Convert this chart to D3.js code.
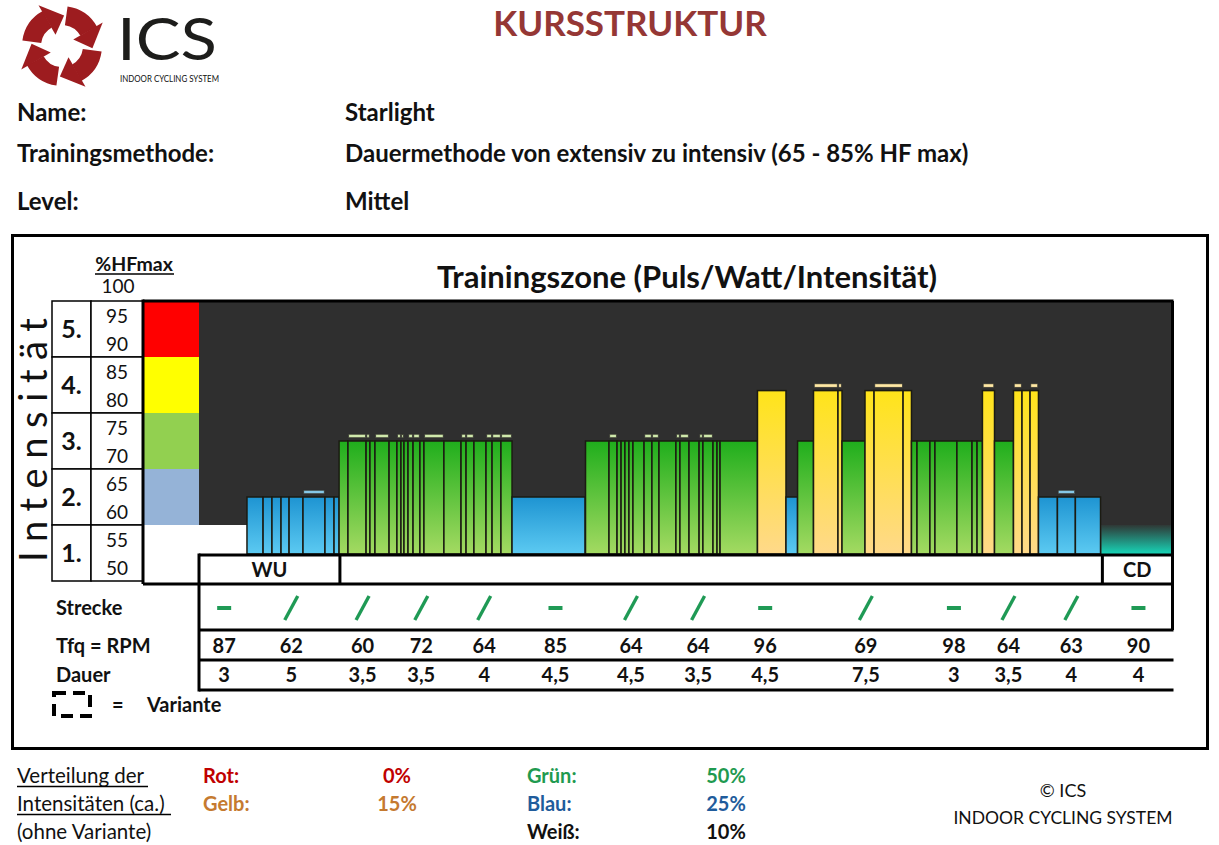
<!DOCTYPE html>
<html><head><meta charset="utf-8">
<script src="https://cdn.jsdelivr.net/npm/d3@7"></script>
<style>
body{margin:0;background:#fff}
svg{display:block}
text{font-family:Lato,"Open Sans","DejaVu Sans",sans-serif;fill:#111}
</style></head>
<body><svg id="c" width="1219" height="845"></svg>
<script>
// ---------- data ----------
const totalMinutes = 58;
const intensityRows = [5, 4, 3, 2, 1];
const hfTicks = [95, 90, 85, 80, 75, 70, 65, 60, 55, 50];
const zoneBands = [ // [from%, to%, zone]
  [90, 100, "rot"], [80, 90, "gelb"], [70, 80, "gruen"], [60, 70, "blau"], [50, 60, "weiss"]
];
const phaseLabels = ["WU", "", "CD"];
const phaseBounds = [0, 8.4, 53.85, 58];
const strecke = ["flach","berg","berg","berg","berg","flach","berg","berg","flach","berg","flach","berg","berg","flach"];
const rpm = [87, 62, 60, 72, 64, 85, 64, 64, 96, 69, 98, 64, 63, 90];
const dauer = [3, 5, 3.5, 3.5, 4, 4.5, 4.5, 3.5, 4.5, 7.5, 3, 3.5, 4, 4];
const dauerLabels = ["3","5","3,5","3,5","4","4,5","4,5","3,5","4,5","7,5","3","3,5","4","4"];
// segments: [start min, end min, %HFmax, zone, variant]
const segments = [
  [0, 2.86, 60, "weiss", 0],
  [2.86, 3.82, 65, "blau", 0], [3.82, 4.35, 65, "blau", 0], [4.35, 4.89, 65, "blau", 0],
  [4.89, 5.37, 65, "blau", 0], [5.37, 6.20, 65, "blau", 0], [6.20, 7.51, 65, "blau", 1],
  [7.51, 8.05, 65, "blau", 0], [8.05, 8.35, 65, "blau", 0],
  [8.35, 8.88, 75, "gruen", 0], [8.88, 9.96, 75, "gruen", 1], [9.96, 10.19, 75, "gruen", 1],
  [10.19, 10.49, 75, "gruen", 0], [10.49, 11.33, 75, "gruen", 1], [11.33, 11.80, 75, "gruen", 0],
  [11.80, 12.04, 75, "gruen", 1], [12.04, 12.22, 75, "gruen", 1], [12.22, 12.46, 75, "gruen", 0],
  [12.46, 12.76, 75, "gruen", 1], [12.76, 13.17, 75, "gruen", 1], [13.17, 13.41, 75, "gruen", 0],
  [13.41, 14.60, 75, "gruen", 1], [14.60, 15.62, 75, "gruen", 0], [15.62, 15.92, 75, "gruen", 1],
  [15.92, 16.39, 75, "gruen", 1], [16.39, 17.11, 75, "gruen", 0], [17.11, 17.47, 75, "gruen", 1],
  [17.47, 18.00, 75, "gruen", 1], [18.00, 18.66, 75, "gruen", 1],
  [18.66, 23.01, 65, "blau", 0],
  [23.04, 24.44, 75, "gruen", 0], [24.44, 24.92, 75, "gruen", 1], [24.92, 25.16, 75, "gruen", 0],
  [25.16, 25.39, 75, "gruen", 0], [25.39, 25.63, 75, "gruen", 0], [25.63, 25.87, 75, "gruen", 0],
  [25.87, 26.53, 75, "gruen", 0], [26.53, 27.00, 75, "gruen", 1], [27.00, 27.42, 75, "gruen", 1],
  [27.42, 28.43, 75, "gruen", 0], [28.43, 28.67, 75, "gruen", 1], [28.67, 29.21, 75, "gruen", 1],
  [29.21, 29.81, 75, "gruen", 0], [29.81, 30.04, 75, "gruen", 1], [30.04, 30.64, 75, "gruen", 1],
  [30.64, 30.88, 75, "gruen", 0], [30.88, 31.06, 75, "gruen", 0], [31.06, 33.29, 75, "gruen", 0],
  [33.29, 34.99, 84, "gelb", 0],
  [34.99, 35.68, 65, "blau", 0],
  [35.68, 36.63, 75, "gruen", 0],
  [36.63, 38.09, 84, "gelb", 1], [38.09, 38.33, 84, "gelb", 1],
  [38.33, 39.70, 75, "gruen", 0],
  [39.70, 40.24, 84, "gelb", 0], [40.24, 41.97, 84, "gelb", 1], [41.97, 42.47, 84, "gelb", 0],
  [42.47, 42.80, 75, "gruen", 0], [42.80, 43.57, 75, "gruen", 0], [43.57, 43.87, 75, "gruen", 0],
  [43.87, 45.18, 75, "gruen", 0], [45.18, 46.08, 75, "gruen", 0], [46.08, 46.38, 75, "gruen", 0],
  [46.38, 46.70, 75, "gruen", 0],
  [46.70, 47.42, 84, "gelb", 1],
  [47.42, 48.55, 75, "gruen", 0],
  [48.55, 49.06, 84, "gelb", 1], [49.06, 49.54, 84, "gelb", 0], [49.54, 50.04, 84, "gelb", 1],
  [50.04, 51.17, 65, "blau", 0], [51.17, 52.24, 65, "blau", 1], [52.24, 53.74, 65, "blau", 0],
  [53.80, 58, 60, "cd", 0]
];
const verteilung = [
  ["Rot:", "0%", "rot"], ["Gelb:", "15%", "gelb"],
  ["Grün:", "50%", "gruen"], ["Blau:", "25%", "blau"], ["Weiß:", "10%", "weiss"]
];

// ---------- setup ----------
const svg = d3.select("#c");
const defs = svg.append("defs");
const x = d3.scaleLinear().domain([0, totalMinutes]).range([199, 1172]);
const y = d3.scaleLinear().domain([50, 100]).range([581, 301]);
const yBase = 554;
const legendFill = {rot:"#ff0000", gelb:"#ffff00", gruen:"#92d050", blau:"#95b3d7", weiss:"#ffffff"};
const grad = {
  gruen:["#1fae1c","#a4da62"], gelb:["#ffe41a","#ffd98a"], blau:["#1e94d2","#5ccaf2"], cd:["#2f3836","#17d6b8"]
};
const capFill = {gruen:"#cfe8ac", gelb:"#ffe8a4", blau:"#86c7e6"};
const textCol = {rot:"#c00000", gelb:"#c57a30", gruen:"#1f9a50", blau:"#1f5c9c", weiss:"#111"};
Object.entries(grad).forEach(([k,c])=>{
  const g = defs.append("linearGradient").attr("id","g_"+k).attr("x1",0).attr("y1",0).attr("x2",0).attr("y2",1);
  g.append("stop").attr("offset","0%").attr("stop-color",c[0]);
  g.append("stop").attr("offset","100%").attr("stop-color",c[1]);
});

// ---------- header ----------
const logo = svg.append("g").attr("transform","translate(62,46)");
const pt = (a,r)=>[r*Math.sin(a), -r*Math.cos(a)];
for (let k=0;k<4;k++){
  const a0 = (k*90+8)*Math.PI/180, a1 = a0 + 52*Math.PI/180, a2 = a0 + 86*Math.PI/180;
  logo.append("path").attr("d", d3.arc()({innerRadius:21,outerRadius:40,startAngle:a0,endAngle:a1+0.02}))
    .attr("fill","#9d1c1f");
  logo.append("path").attr("d", d3.line()([pt(a1,13),pt(a1,47),pt(a2,30.5)]) + "Z").attr("fill","#9d1c1f");
}
svg.append("text").attr("x",117).attr("y",60).attr("font-size",58).attr("font-weight",400)
  .attr("textLength",100).attr("lengthAdjust","spacingAndGlyphs")
  .style("fill","#1d1d1b").text("ICS");
svg.append("text").attr("x",120).attr("y",82).attr("font-size",9).text("INDOOR CYCLING SYSTEM")
  .attr("textLength",99).attr("lengthAdjust","spacingAndGlyphs");
svg.append("text").attr("x",630).attr("y",36).attr("text-anchor","middle").attr("font-size",35)
  .attr("font-weight",700).style("fill","#953735").text("KURSSTRUKTUR");

const info = [["Name:", "Starlight", 121], ["Trainingsmethode:", "Dauermethode von extensiv zu intensiv (65 - 85% HF max)", 162], ["Level:", "Mittel", 210]];
info.forEach(r=>{
  svg.append("text").attr("x",17).attr("y",r[2]).attr("font-size",24).attr("font-weight",700).text(r[0]);
  svg.append("text").attr("x",345).attr("y",r[2]).attr("font-size",24).attr("font-weight",700).text(r[1]);
});

// ---------- frame ----------
svg.append("rect").attr("x",12.5).attr("y",235.5).attr("width",1195).attr("height",513)
  .attr("fill","none").attr("stroke","#000").attr("stroke-width",3);

svg.append("text").attr("x",687).attr("y",288).attr("text-anchor","middle").attr("font-size",31)
  .attr("font-weight",700).text("Trainingszone (Puls/Watt/Intensität)");
svg.append("text").attr("x",134).attr("y",271).attr("text-anchor","middle").attr("font-size",19.5)
  .attr("font-weight",700).text("%HFmax");
svg.append("line").attr("x1",95).attr("x2",174).attr("y1",274).attr("y2",274).attr("stroke","#000").attr("stroke-width",1.5);
svg.append("text").attr("x",118).attr("y",293).attr("text-anchor","middle").attr("font-size",19).text("100");

// vertical title
svg.append("text").attr("transform","translate(47,562) rotate(-90)").attr("font-size",38).attr("font-weight",400)
  .attr("textLength",244).attr("lengthAdjust","spacing").text("Intensität");

// left table
const tbl = svg.append("g");
intensityRows.forEach((lv,i)=>{
  const top = y(100 - i*10), bot = y(90 - i*10);
  tbl.append("rect").attr("x",52).attr("y",top).attr("width",39).attr("height",bot-top).attr("fill","#fff").attr("stroke","#000").attr("stroke-width",1.5);
  tbl.append("rect").attr("x",91).attr("y",top).attr("width",52).attr("height",bot-top).attr("fill","#fff").attr("stroke","#000").attr("stroke-width",1.5);
  tbl.append("text").attr("x",71.5).attr("y",(top+bot)/2+9).attr("text-anchor","middle").attr("font-size",25).attr("font-weight",700).text(lv+".");
});
hfTicks.forEach(v=>{
  tbl.append("text").attr("x",117).attr("y",y(v)-13+7).attr("text-anchor","middle").attr("font-size",19).text(v);
});

// legend colour column
zoneBands.forEach(b=>{
  svg.append("rect").attr("x",144).attr("width",55).attr("y",y(b[1])).attr("height",y(b[0])-y(b[1]))
    .attr("fill",legendFill[b[2]]);
});

// chart background
svg.append("rect").attr("x",x(0)).attr("y",y(100)).attr("width",x(58)-x(0)).attr("height",yBase-y(100)).attr("fill","#2f2f2f");

// bars
const bars = svg.append("g");
bars.selectAll("rect.bar").data(segments).join("rect").attr("class","bar")
  .attr("x",d=>x(d[0])).attr("width",d=>x(d[1])-x(d[0]))
  .attr("y",d=>y(d[2])).attr("height",d=>yBase-y(d[2]))
  .attr("fill",d=>d[3]==="weiss"?"#fff":"url(#g_"+d[3]+")")
  .attr("stroke",d=>(d[3]==="weiss"||d[3]==="cd")?"none":"#1b1b12").attr("stroke-width",1.5);
bars.selectAll("rect.cap").data(segments.filter(d=>d[4])).join("rect").attr("class","cap")
  .attr("x",d=>x(d[0])+0.8).attr("width",d=>Math.max(1,x(d[1])-x(d[0])-1.6))
  .attr("y",d=>y(d[2]+1.2)).attr("height",d=>y(d[2]+0.6)-y(d[2]+1.2))
  .attr("fill",d=>capFill[d[3]]).attr("stroke","#3a3a30").attr("stroke-width",0.6);

// borders of chart
const thick = (x1,y1,x2,y2,w)=>svg.append("line").attr("x1",x1).attr("y1",y1).attr("x2",x2).attr("y2",y2).attr("stroke","#000").attr("stroke-width",w||3);
thick(143,y(100),1173.5,y(100),3);
thick(143,y(100)-1.5,143,584,3);
thick(1172.5,y(100),1172.5,630,3);
thick(199,555,1173.5,555,3);
thick(143,584,1173.5,584,3);
thick(199,630,1173.5,630,3);
thick(199,660,1173.5,660,3);
thick(199,690,1173.5,690,3);
thick(199,553.5,199,691.5,3);
phaseBounds.slice(1,-1).forEach(b=>thick(x(b),555,x(b),584,3));

// phase labels
phaseLabels.forEach((l,i)=>{
  if(!l) return;
  svg.append("text").attr("x",(x(phaseBounds[i])+x(phaseBounds[i+1]))/2).attr("y",577).attr("text-anchor","middle")
    .attr("font-size",20).attr("font-weight",700).text(l);
});

// columns
const cum = [0]; dauer.forEach(d=>cum.push(cum[cum.length-1]+d));
const centers = dauer.map((d,i)=>x(cum[i]+d/2));
const sym = svg.append("g").attr("stroke","#1f9a55").attr("stroke-linecap","butt");
strecke.forEach((s,i)=>{
  const cx = centers[i];
  if(s==="flach") sym.append("line").attr("x1",cx-7).attr("x2",cx+7).attr("y1",608).attr("y2",608).attr("stroke-width",4);
  else sym.append("line").attr("x1",cx-6.5).attr("x2",cx+6.5).attr("y1",620).attr("y2",596).attr("stroke-width",3.4);
});
rpm.forEach((v,i)=>svg.append("text").attr("x",centers[i]).attr("y",653).attr("text-anchor","middle")
  .attr("font-size",20).attr("font-weight",700).text(v));
dauerLabels.forEach((v,i)=>svg.append("text").attr("x",centers[i]).attr("y",682).attr("text-anchor","middle")
  .attr("font-size",20).attr("font-weight",700).text(v));
[["Strecke",615],["Tfq = RPM",653],["Dauer",682]].forEach(r=>
  svg.append("text").attr("x",56).attr("y",r[1]).attr("font-size",20).attr("font-weight",700).text(r[0]));

// variant legend
svg.append("rect").attr("x",54).attr("y",693).attr("width",36).attr("height",23).attr("fill","none")
  .attr("stroke","#000").attr("stroke-width",4).attr("stroke-dasharray","12,7");
svg.append("text").attr("x",112).attr("y",712).attr("font-size",20).attr("font-weight",700).text("=");
svg.append("text").attr("x",147).attr("y",712).attr("font-size",20).attr("font-weight",700).text("Variante");

// footer
svg.append("text").attr("x",17).attr("y",783).attr("font-size",20.5).text("Verteilung der");
svg.append("line").attr("x1",17).attr("x2",148).attr("y1",786.5).attr("y2",786.5).attr("stroke","#000").attr("stroke-width",1.3);
svg.append("text").attr("x",17).attr("y",811).attr("font-size",20.5).text("Intensitäten (ca.)");
svg.append("line").attr("x1",17).attr("x2",171).attr("y1",814.5).attr("y2",814.5).attr("stroke","#000").attr("stroke-width",1.3);
svg.append("text").attr("x",17).attr("y",839).attr("font-size",20.5).text("(ohne Variante)");
const vPos = [[203,397,783],[203,397,811],[527,726,783],[527,726,811],[527,726,839]];
verteilung.forEach((v,i)=>{
  const p = vPos[i];
  svg.append("text").attr("x",p[0]).attr("y",p[2]).attr("font-size",20).attr("font-weight",700).style("fill",textCol[v[2]]).text(v[0]);
  svg.append("text").attr("x",p[1]).attr("y",p[2]).attr("text-anchor","middle").attr("font-size",20).attr("font-weight",700).style("fill",textCol[v[2]]).text(v[1]);
});
svg.append("text").attr("x",1063).attr("y",797).attr("text-anchor","middle").attr("font-size",18).text("© ICS");
svg.append("text").attr("x",1063).attr("y",824).attr("text-anchor","middle").attr("font-size",17.5).text("INDOOR CYCLING SYSTEM");
</script></body></html>
